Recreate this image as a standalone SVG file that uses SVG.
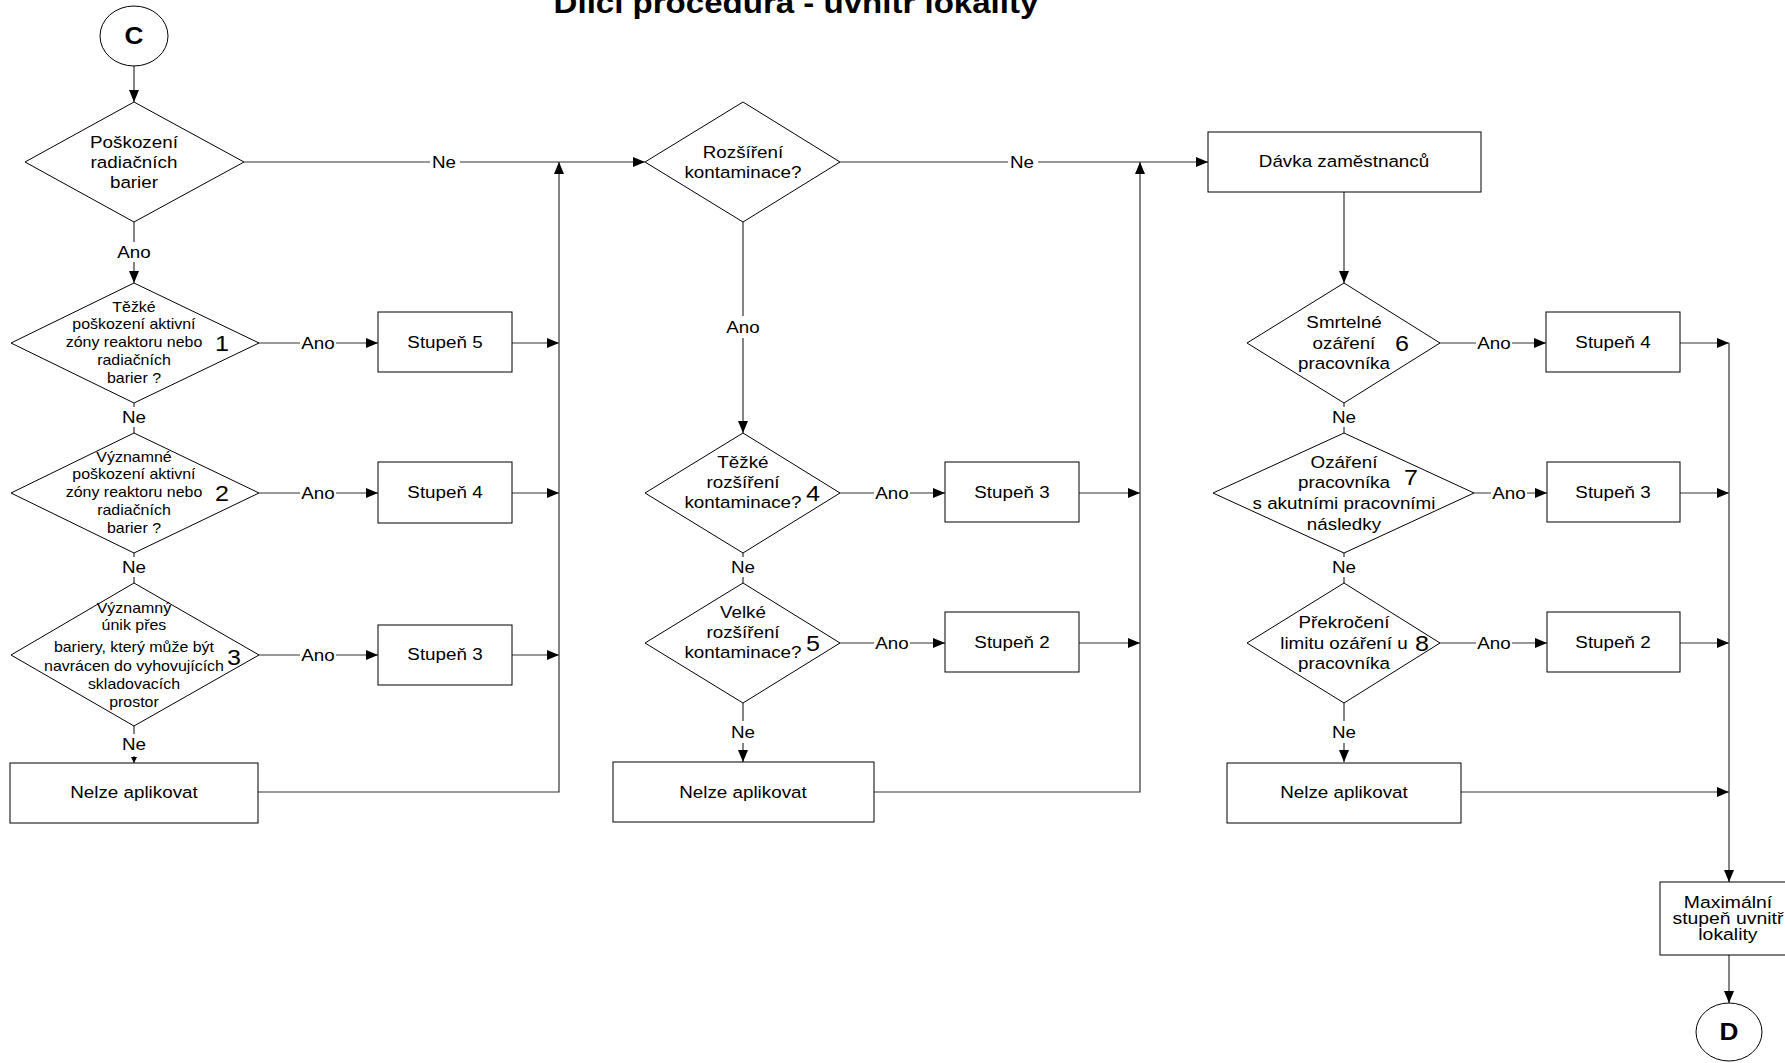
<svg xmlns="http://www.w3.org/2000/svg" width="1785" height="1063" viewBox="0 0 1785 1063">
<style>
text{font-family:"Liberation Sans",Arial,sans-serif;fill:#000;text-anchor:middle;transform-box:fill-box;transform-origin:50% 50%;transform:scaleX(1.14)}
.t16{font-size:16.5px}
.t14{font-size:14px}
.num{font-size:22px}
.title{font-size:29px;font-weight:bold}
.cir{font-size:23px;font-weight:bold}
.mx{font-size:17px}
.shape{fill:#fff;stroke:#000;stroke-width:1}
.cn{fill:none;stroke:#333;stroke-width:1.2}
.lbg{fill:#fff;stroke:none}
</style>
<defs>
<marker id="ah" viewBox="0 0 12 10" refX="12" refY="5" markerWidth="12" markerHeight="10" orient="auto" markerUnits="userSpaceOnUse"><path d="M0,0 L12,5 L0,10 z" fill="#000"/></marker>
<marker id="ahs" viewBox="0 0 6 6" refX="6" refY="3" markerWidth="6" markerHeight="6" orient="auto" markerUnits="userSpaceOnUse"><path d="M0,0 L6,3 L0,6 z" fill="#000"/></marker>
</defs>
<rect width="1785" height="1063" fill="#fff"/>
<text class="title" x="796" y="13">Dílčí procedura - uvnitř lokality</text>

<g id="connectors">
<line class="cn" x1="134" y1="66" x2="134" y2="102" marker-end="url(#ah)"/>
<line class="cn" x1="134" y1="222" x2="134" y2="283" marker-end="url(#ah)"/>
<line class="cn" x1="244" y1="162" x2="645" y2="162" marker-end="url(#ah)"/>
<line class="cn" x1="259" y1="343" x2="378" y2="343" marker-end="url(#ah)"/>
<line class="cn" x1="512" y1="343" x2="559" y2="343" marker-end="url(#ah)"/>
<line class="cn" x1="134" y1="403" x2="134" y2="433"/>
<line class="cn" x1="259" y1="493" x2="378" y2="493" marker-end="url(#ah)"/>
<line class="cn" x1="512" y1="493" x2="559" y2="493" marker-end="url(#ah)"/>
<line class="cn" x1="134" y1="553" x2="134" y2="583"/>
<line class="cn" x1="259" y1="655" x2="378" y2="655" marker-end="url(#ah)"/>
<line class="cn" x1="512" y1="655" x2="559" y2="655" marker-end="url(#ah)"/>
<line class="cn" x1="134" y1="726" x2="134" y2="763" marker-end="url(#ahs)"/>
<polyline class="cn" points="258,792 559,792 559,162" marker-end="url(#ah)"/>
<line class="cn" x1="743" y1="222" x2="743" y2="433" marker-end="url(#ah)"/>
<line class="cn" x1="840" y1="162" x2="1208" y2="162" marker-end="url(#ah)"/>
<line class="cn" x1="840" y1="493" x2="945" y2="493" marker-end="url(#ah)"/>
<line class="cn" x1="1079" y1="493" x2="1140" y2="493" marker-end="url(#ah)"/>
<line class="cn" x1="743" y1="553" x2="743" y2="583"/>
<line class="cn" x1="840" y1="643" x2="945" y2="643" marker-end="url(#ah)"/>
<line class="cn" x1="1079" y1="643" x2="1140" y2="643" marker-end="url(#ah)"/>
<line class="cn" x1="743" y1="703" x2="743" y2="762" marker-end="url(#ah)"/>
<polyline class="cn" points="874,792 1140,792 1140,162" marker-end="url(#ah)"/>
<line class="cn" x1="1344" y1="192" x2="1344" y2="283" marker-end="url(#ah)"/>
<line class="cn" x1="1440" y1="343" x2="1546" y2="343" marker-end="url(#ah)"/>
<line class="cn" x1="1680" y1="343" x2="1729" y2="343" marker-end="url(#ah)"/>
<line class="cn" x1="1344" y1="403" x2="1344" y2="433"/>
<line class="cn" x1="1474" y1="493" x2="1547" y2="493" marker-end="url(#ah)"/>
<line class="cn" x1="1680" y1="493" x2="1729" y2="493" marker-end="url(#ah)"/>
<line class="cn" x1="1344" y1="553" x2="1344" y2="583"/>
<line class="cn" x1="1440" y1="643" x2="1547" y2="643" marker-end="url(#ah)"/>
<line class="cn" x1="1680" y1="643" x2="1729" y2="643" marker-end="url(#ah)"/>
<line class="cn" x1="1344" y1="703" x2="1344" y2="762" marker-end="url(#ah)"/>
<line class="cn" x1="1461" y1="792" x2="1729" y2="792" marker-end="url(#ah)"/>
<line class="cn" x1="1729" y1="343" x2="1729" y2="882" marker-end="url(#ah)"/>
<line class="cn" x1="1729" y1="955" x2="1729" y2="1003" marker-end="url(#ah)"/>

<g id="labels">
<rect class="lbg" x="116" y="242" width="36" height="20"/><text class="t16" x="134" y="258">Ano</text>
<rect class="lbg" x="430" y="153" width="30" height="18"/><text class="t16" x="444" y="168">Ne</text>
<rect class="lbg" x="300" y="334" width="36" height="18"/><text class="t16" x="318" y="349">Ano</text>
<rect class="lbg" x="120" y="407" width="28" height="20"/><text class="t16" x="134" y="423">Ne</text>
<rect class="lbg" x="300" y="484" width="36" height="18"/><text class="t16" x="318" y="499">Ano</text>
<rect class="lbg" x="120" y="557" width="28" height="20"/><text class="t16" x="134" y="573">Ne</text>
<rect class="lbg" x="300" y="646" width="36" height="18"/><text class="t16" x="318" y="661">Ano</text>
<rect class="lbg" x="120" y="734" width="28" height="22"/><text class="t16" x="134" y="750">Ne</text>
<rect class="lbg" x="725" y="316" width="36" height="22"/><text class="t16" x="743" y="333">Ano</text>
<rect class="lbg" x="1008" y="153" width="30" height="18"/><text class="t16" x="1022" y="168">Ne</text>
<rect class="lbg" x="874" y="484" width="36" height="18"/><text class="t16" x="892" y="499">Ano</text>
<rect class="lbg" x="729" y="557" width="28" height="20"/><text class="t16" x="743" y="573">Ne</text>
<rect class="lbg" x="874" y="634" width="36" height="18"/><text class="t16" x="892" y="649">Ano</text>
<rect class="lbg" x="729" y="721" width="28" height="22"/><text class="t16" x="743" y="738">Ne</text>
<rect class="lbg" x="1476" y="334" width="36" height="18"/><text class="t16" x="1494" y="349">Ano</text>
<rect class="lbg" x="1330" y="407" width="28" height="20"/><text class="t16" x="1344" y="423">Ne</text>
<rect class="lbg" x="1491" y="484" width="36" height="18"/><text class="t16" x="1509" y="499">Ano</text>
<rect class="lbg" x="1330" y="557" width="28" height="20"/><text class="t16" x="1344" y="573">Ne</text>
<rect class="lbg" x="1476" y="634" width="36" height="18"/><text class="t16" x="1494" y="649">Ano</text>
<rect class="lbg" x="1330" y="721" width="28" height="22"/><text class="t16" x="1344" y="738">Ne</text>
</g>
</g>

<g id="start-C">
<ellipse class="shape" cx="134" cy="36" rx="34" ry="30"/>
<text class="cir" x="134" y="44">C</text>
</g>

<g id="d0">
<polygon class="shape" points="134,102 244,162 134,222 25,162"/>
<text class="t16" x="134" y="148">Poškození</text>
<text class="t16" x="134" y="168">radiačních</text>
<text class="t16" x="134" y="188">barier</text>
</g>

<g id="d1">
<polygon class="shape" points="134,283 259,343 134,403 11,343"/>
<text class="t14" x="134" y="312">Těžké</text>
<text class="t14" x="134" y="329">poškození aktivní</text>
<text class="t14" x="134" y="347">zóny reaktoru nebo</text>
<text class="t14" x="134" y="365">radiačních</text>
<text class="t14" x="134" y="383">barier ?</text>
<text class="num" x="222" y="351">1</text>
</g>

<g id="b-s5">
<rect class="shape" x="378" y="312" width="134" height="60"/>
<text class="t16" x="445" y="348">Stupeň 5</text>
</g>

<g id="d2">
<polygon class="shape" points="134,433 259,493 134,553 11,493"/>
<text class="t14" x="134" y="462">Významné</text>
<text class="t14" x="134" y="479">poškození aktivní</text>
<text class="t14" x="134" y="497">zóny reaktoru nebo</text>
<text class="t14" x="134" y="515">radiačních</text>
<text class="t14" x="134" y="533">barier ?</text>
<text class="num" x="222" y="501">2</text>
</g>

<g id="b-s4a">
<rect class="shape" x="378" y="462" width="134" height="61"/>
<text class="t16" x="445" y="498">Stupeň 4</text>
</g>

<g id="d3">
<polygon class="shape" points="134,583 259,655 134,726 11,655"/>
<text class="t14" x="134" y="613">Významný</text>
<text class="t14" x="134" y="630">únik přes</text>
<text class="t14" x="134" y="652">bariery, který může být</text>
<text class="t14" x="134" y="671">navrácen do vyhovujících</text>
<text class="t14" x="134" y="689">skladovacích</text>
<text class="t14" x="134" y="707">prostor</text>
<text class="num" x="234" y="665">3</text>
</g>

<g id="b-s3a">
<rect class="shape" x="378" y="625" width="134" height="60"/>
<text class="t16" x="445" y="660">Stupeň 3</text>
</g>

<g id="b-na1">
<rect class="shape" x="10" y="763" width="248" height="60"/>
<text class="t16" x="134" y="798">Nelze aplikovat</text>
</g>

<g id="d-roz">
<polygon class="shape" points="743,102 840,162 743,222 645,162"/>
<text class="t16" x="743" y="158">Rozšíření</text>
<text class="t16" x="743" y="178">kontaminace?</text>
</g>

<g id="d4">
<polygon class="shape" points="743,433 840,493 743,553 645,493"/>
<text class="t16" x="743" y="468">Těžké</text>
<text class="t16" x="743" y="488">rozšíření</text>
<text class="t16" x="743" y="508">kontaminace?</text>
<text class="num" x="813" y="501">4</text>
</g>

<g id="b-s3b">
<rect class="shape" x="945" y="462" width="134" height="60"/>
<text class="t16" x="1012" y="498">Stupeň 3</text>
</g>

<g id="d5">
<polygon class="shape" points="743,583 840,643 743,703 645,643"/>
<text class="t16" x="743" y="618">Velké</text>
<text class="t16" x="743" y="638">rozšíření</text>
<text class="t16" x="743" y="658">kontaminace?</text>
<text class="num" x="813" y="651">5</text>
</g>

<g id="b-s2a">
<rect class="shape" x="945" y="612" width="134" height="60"/>
<text class="t16" x="1012" y="648">Stupeň 2</text>
</g>

<g id="b-na2">
<rect class="shape" x="613" y="762" width="261" height="60"/>
<text class="t16" x="743" y="798">Nelze aplikovat</text>
</g>

<g id="b-davka">
<rect class="shape" x="1208" y="132" width="273" height="60"/>
<text class="t16" x="1344" y="167">Dávka zaměstnanců</text>
</g>

<g id="d6">
<polygon class="shape" points="1344,283 1440,343 1344,403 1247,343"/>
<text class="t16" x="1344" y="328">Smrtelné</text>
<text class="t16" x="1344" y="349">ozáření</text>
<text class="t16" x="1344" y="369">pracovníka</text>
<text class="num" x="1402" y="351">6</text>
</g>

<g id="b-s4b">
<rect class="shape" x="1546" y="312" width="134" height="60"/>
<text class="t16" x="1613" y="348">Stupeň 4</text>
</g>

<g id="d7">
<polygon class="shape" points="1344,433 1474,493 1344,553 1213,493"/>
<text class="t16" x="1344" y="468">Ozáření</text>
<text class="t16" x="1344" y="488">pracovníka</text>
<text class="t16" x="1344" y="509">s akutními pracovními</text>
<text class="t16" x="1344" y="530">následky</text>
<text class="num" x="1411" y="485">7</text>
</g>

<g id="b-s3c">
<rect class="shape" x="1547" y="462" width="133" height="60"/>
<text class="t16" x="1613" y="498">Stupeň 3</text>
</g>

<g id="d8">
<polygon class="shape" points="1344,583 1440,643 1344,703 1247,643"/>
<text class="t16" x="1344" y="628">Překročení</text>
<text class="t16" x="1344" y="649">limitu ozáření u</text>
<text class="t16" x="1344" y="669">pracovníka</text>
<text class="num" x="1422" y="651">8</text>
</g>

<g id="b-s2b">
<rect class="shape" x="1547" y="612" width="133" height="60"/>
<text class="t16" x="1613" y="648">Stupeň 2</text>
</g>

<g id="b-na3">
<rect class="shape" x="1227" y="763" width="234" height="60"/>
<text class="t16" x="1344" y="798">Nelze aplikovat</text>
</g>

<g id="b-max">
<rect class="shape" x="1660" y="882" width="130" height="73"/>
<text class="mx" x="1728" y="908">Maximální</text>
<text class="mx" x="1728" y="924">stupeň uvnitř</text>
<text class="mx" x="1728" y="940">lokality</text>
</g>

<g id="end-D">
<ellipse class="shape" cx="1729" cy="1032" rx="33" ry="29"/>
<text class="cir" x="1729" y="1040">D</text>
</g>
</svg>
